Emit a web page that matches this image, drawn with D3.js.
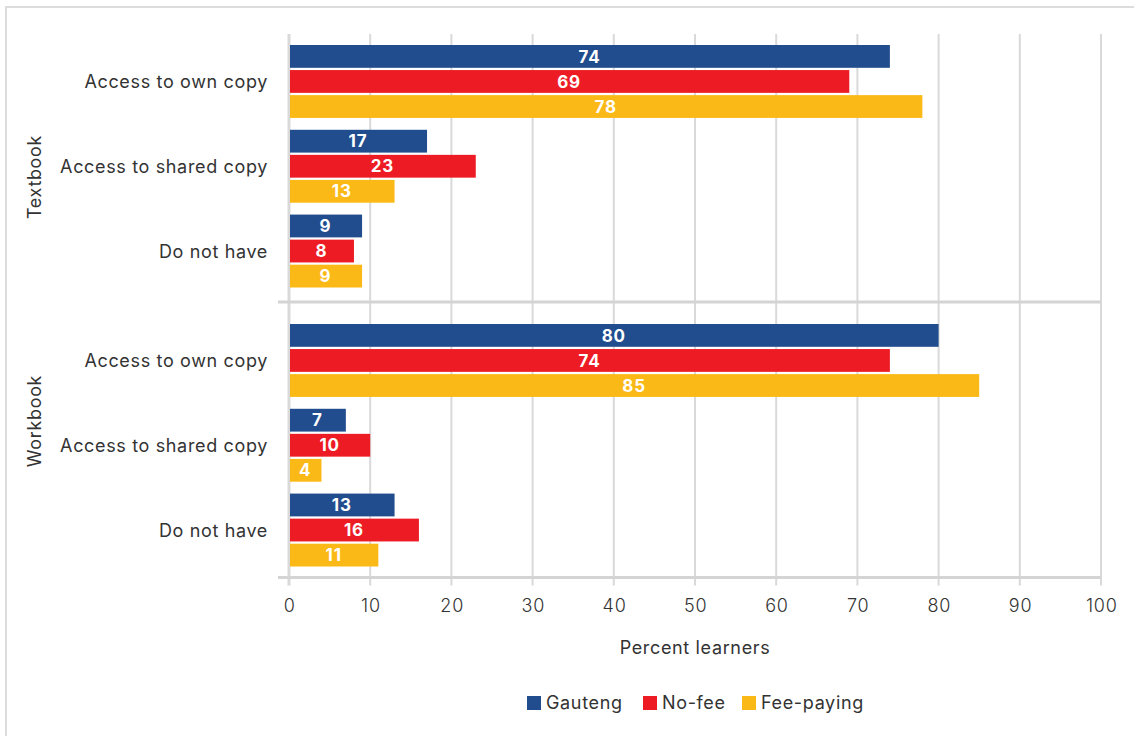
<!DOCTYPE html>
<html>
<head>
<meta charset="utf-8">
<script src="https://cdn.jsdelivr.net/npm/d3@7"></script>
<style>
  html, body { margin: 0; padding: 0; background: #fff; }
  svg { display: block; }
  text { font-family: "Inter", "Open Sans", sans-serif; fill: #333; }
  .lbl { font-size: 18px; letter-spacing: 0.65px; }
</style>
</head>
<body>
<svg id="chart" width="1134" height="736"></svg>
<script>
// Learner access to textbooks and workbooks, percent of learners
const panels = ["Textbook", "Workbook"];
const categories = ["Access to own copy", "Access to shared copy", "Do not have"];
const seriesNames = ["Gauteng", "No-fee", "Fee-paying"];
const seriesColors = ["#214d8e", "#ed1c24", "#fbb917"];

const textbookGauteng = [74, 17, 9];
const textbookNoFee = [69, 23, 8];
const textbookFeePaying = [78, 13, 9];
const workbookGauteng = [80, 7, 13];
const workbookNoFee = [74, 10, 16];
const workbookFeePaying = [85, 4, 11];

const xTicks = [0, 10, 20, 30, 40, 50, 60, 70, 80, 90, 100];
const xTitle = "Percent learners";

const panelValues = {
  "Textbook": [textbookGauteng, textbookNoFee, textbookFeePaying],
  "Workbook": [workbookGauteng, workbookNoFee, workbookFeePaying]
};

const svg = d3.select("#chart");

// outer frame
svg.append("rect")
  .attr("x", 6).attr("y", 7)
  .attr("width", 1140).attr("height", 740)
  .attr("fill", "none").attr("stroke", "#dcdcdc").attr("stroke-width", 2);

const plotLeft = 289, plotRight = 1101;
const plotTop = 34, axisY = 577.5, separatorY = 302;

const x = d3.scaleLinear().domain([0, 100]).range([plotLeft, plotRight]);

// band ranges for the category groups in each panel
const panelLayout = {
  "Textbook": { range: [45, 287.5], labelY: 177 },
  "Workbook": { range: [324, 566.5], labelY: 421 }
};

// vertical gridlines (extend below the axis as tick marks)
svg.append("g").selectAll("line")
  .data(xTicks)
  .join("line")
  .attr("x1", d => x(d)).attr("x2", d => x(d))
  .attr("y1", plotTop).attr("y2", axisY + 8)
  .attr("stroke", "#d9d9d9")
  .attr("stroke-width", d => d === 0 ? 3 : 2);

// horizontal separator and axis line
[separatorY, axisY].forEach(yy => {
  svg.append("line")
    .attr("x1", 278).attr("x2", plotRight)
    .attr("y1", yy).attr("y2", yy)
    .attr("stroke", "#d4d4d4").attr("stroke-width", 3);
});

// x-axis labels
const xAxis = d3.axisBottom(x).tickValues(xTicks).tickSize(0).tickPadding(0);
const gx = svg.append("g").attr("transform", `translate(0,${axisY})`).call(xAxis);
gx.select(".domain").remove();
gx.selectAll("text")
  .attr("dy", null)
  .attr("y", 34)
  .attr("dx", "0.3px")
  .style("font-family", "Inter, 'Open Sans', sans-serif")
  .style("font-size", "18px")
  .style("letter-spacing", "0.8px")
  .style("font-weight", "300")
  .attr("fill", "#333");

svg.append("text")
  .attr("class", "lbl")
  .attr("x", (plotLeft + plotRight) / 2)
  .attr("y", 654)
  .attr("text-anchor", "middle")
  .text(xTitle);

panels.forEach(panel => {
  const layout = panelLayout[panel];
  const y = d3.scaleBand().domain(categories).range(layout.range).paddingInner(0.14).paddingOuter(0);
  const ySeries = d3.scaleBand().domain(seriesNames).range([0, y.bandwidth()]).paddingInner(0.09);
  const vals = panelValues[panel];

  const g = svg.append("g");

  categories.forEach((cat, ci) => {
    const grp = g.append("g").attr("transform", `translate(0,${y(cat)})`);
    const rows = seriesNames.map((s, si) => ({ s, si, v: vals[si][ci] }));

    grp.selectAll("rect")
      .data(rows)
      .join("rect")
      .attr("x", x(0) + 1)
      .attr("y", d => ySeries(d.s))
      .attr("width", d => x(d.v) - x(0) - 1)
      .attr("height", ySeries.bandwidth())
      .attr("fill", d => seriesColors[d.si]);

    grp.selectAll("text.val")
      .data(rows)
      .join("text")
      .attr("class", "val")
      .attr("x", d => (x(0) + x(d.v)) / 2)
      .attr("y", d => ySeries(d.s) + ySeries.bandwidth() / 2)
      .attr("dy", "0.36em")
      .attr("text-anchor", "middle")
      .style("font-size", "17px")
      .style("letter-spacing", "0.8px")
      .style("font-weight", "700")
      .style("fill", "#fff")
      .text(d => d.v);

    // category label
    g.append("text")
      .attr("class", "lbl")
      .attr("x", 268)
      .attr("y", y(cat) + y.bandwidth() / 2)
      .attr("dy", "0.36em")
      .attr("text-anchor", "end")
      .text(cat);
  });

  // panel label (rotated)
  svg.append("text")
    .attr("class", "lbl")
    .attr("transform", `translate(41,${layout.labelY}) rotate(-90)`)
    .attr("text-anchor", "middle")
    .text(panel);
});

// legend
const legendItems = [
  { name: seriesNames[0], color: seriesColors[0], x: 527 },
  { name: seriesNames[1], color: seriesColors[1], x: 643 },
  { name: seriesNames[2], color: seriesColors[2], x: 742 }
];
const lg = svg.append("g");
legendItems.forEach(it => {
  lg.append("rect")
    .attr("x", it.x).attr("y", 696)
    .attr("width", 14).attr("height", 14)
    .attr("fill", it.color);
  lg.append("text")
    .attr("class", "lbl")
    .attr("x", it.x + 19).attr("y", 703)
    .attr("dy", "0.36em")
    .text(it.name);
});
</script>
</body>
</html>
